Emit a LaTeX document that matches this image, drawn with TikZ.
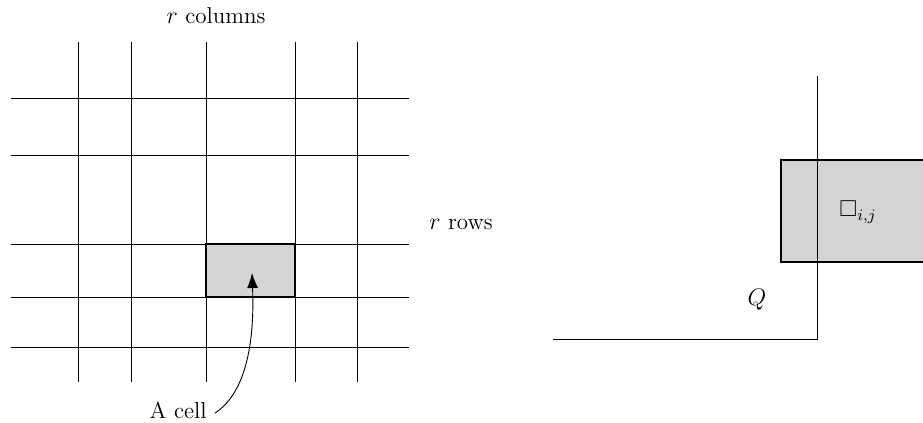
\documentclass[tikz,border=0pt]{standalone}
\usepackage{amssymb}
\usetikzlibrary{arrows.meta}
\begin{document}
\begin{tikzpicture}[x=0.5pt,y=-0.5pt,
  gridline/.style={line width=0.45pt},
  cellfill/.style={fill=black!17,draw=black,line width=0.75pt},
  lbl/.style={font=\fontsize{11.5}{14}\selectfont,inner sep=0pt}]
\useasboundingbox (0,0) rectangle (923,423);
% shaded cell
\filldraw[cellfill] (206,244) rectangle (295,297);
\coordinate (tip) at (252,273);
% vertical grid lines
\foreach \x in {78,131,206,295,357.5}
  \draw[gridline] (\x,41.5) -- (\x,382);
% horizontal grid lines
\foreach \y in {98,155,244,297,347}
  \draw[gridline] (10.7,\y) -- (408.7,\y);
\draw[line width=0.75pt] (206,244) rectangle (295,297);
% labels
\node[lbl] (cols) at (216,16) {$r$ columns};
\node[lbl] (rows) at (461,224) {$r$ rows};
\node[lbl,anchor=east] (acell) at (207,410) {A cell};
\draw[line width=0.45pt,-{Latex[length=7.5pt,width=5.5pt]}]
  (acell.east) ++(8,3) .. controls (243,395) and (255,350) .. (tip);
% right picture
\filldraw[cellfill] (781,160) rectangle (926,262);
\draw[gridline] (817,76) -- (817,339) -- (553,339);
\node[lbl] (box) at (858,212) {$\square_{i,j}$};
\node[lbl] (Q) at (757,300) {$Q$};
\end{tikzpicture}
\end{document}
